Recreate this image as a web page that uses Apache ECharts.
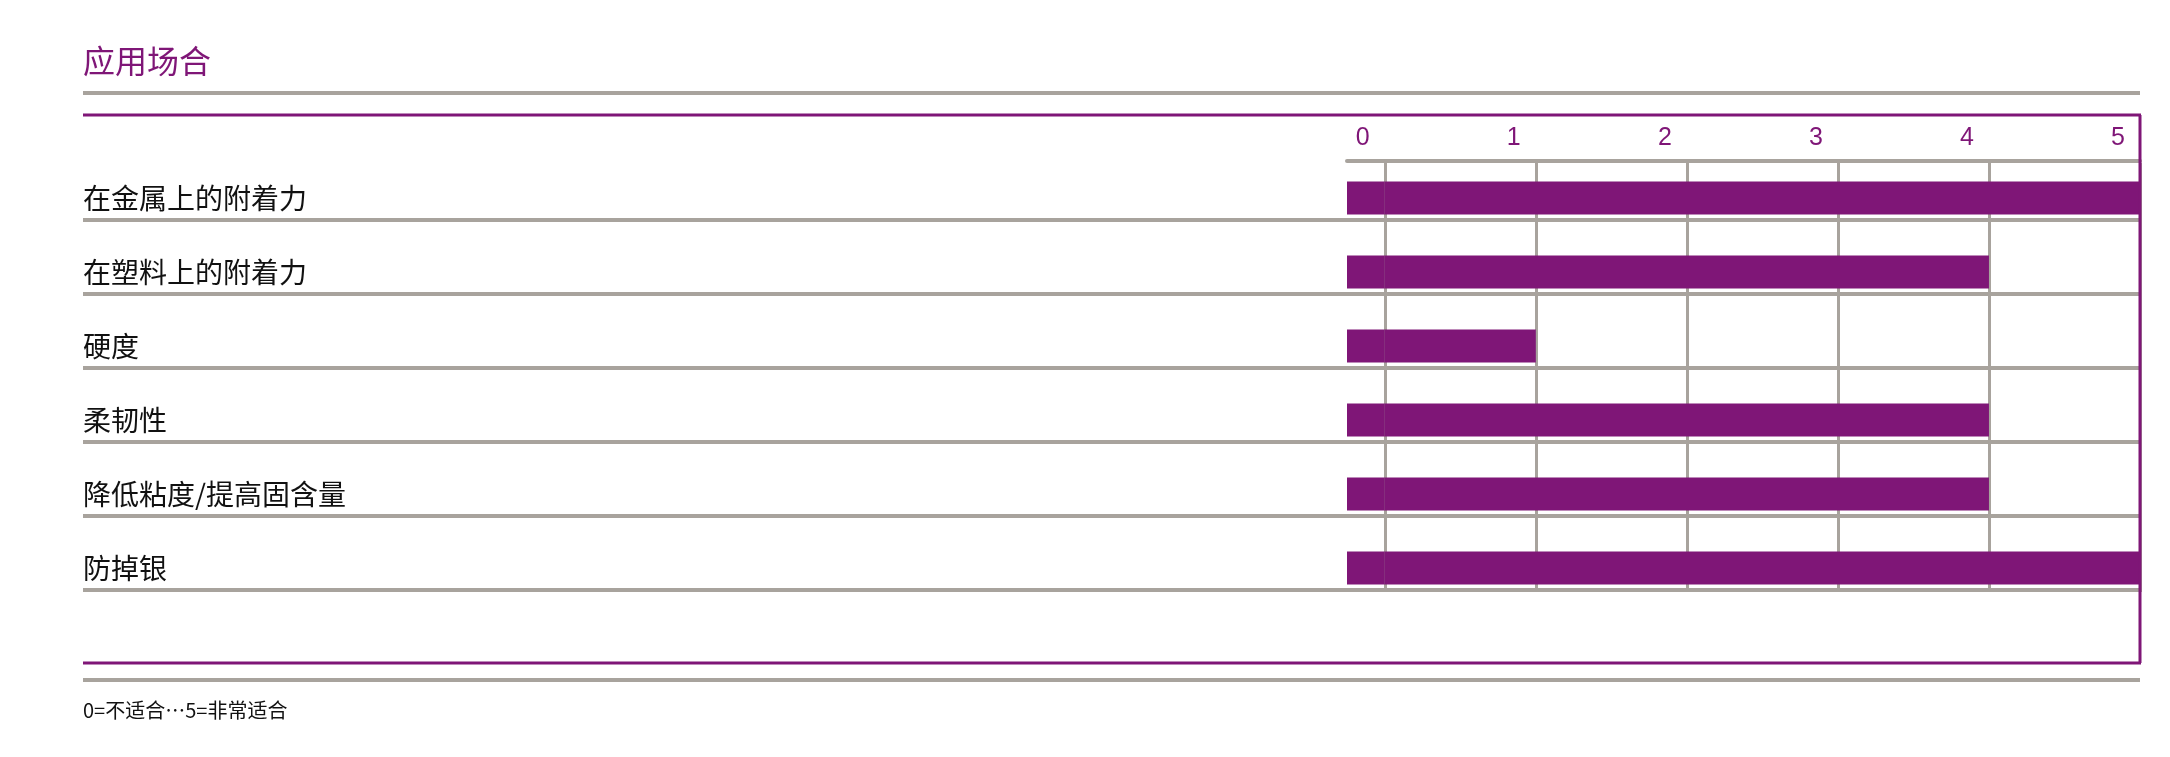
<!DOCTYPE html>
<html><head><meta charset="utf-8">
<script src="https://cdn.jsdelivr.net/npm/echarts@6/dist/echarts.min.js"></script>
<style>html,body{margin:0;padding:0;background:#fff}#c{width:2170px;height:757px}</style>
</head><body><div id="c"></div>
<script>
const categories = ['在金属上的附着力','在塑料上的附着力','硬度','柔韧性','降低粘度/提高固含量','防掉银'];
const values = [5, 4, 1, 4, 4, 5];
const tickValues = [0, 1, 2, 3, 4, 5];
const barStart = -0.25;
const title = '应用场合';
const footnote = '0=不适合…5=非常适合';

const PURPLE = '#7f1677', GRAY = '#a8a39d';
const FONT = '"Noto Sans CJK SC","Liberation Sans",sans-serif';
const chart = echarts.init(document.getElementById('c'));
const L = 83, R = 2140;
const rowH = 74, topBars = 161;
chart.setOption({
  animation: false,
  grid: [
    {left: 1347, right: 30, top: topBars, height: rowH * 6},
    {left: L, right: 30, top: topBars - 15, height: rowH * 6},
    {left: 1347, right: 30, top: 163, height: 429}
  ],
  xAxis: [
    {gridIndex: 0, type: 'value', position: 'top', min: barStart, max: 5,
     axisLine: {show: true, lineStyle: {color: GRAY, width: 4}},
     axisTick: {show: false}, splitLine: {show: false},
     axisLabel: {customValues: tickValues, color: PURPLE, fontSize: 25, fontFamily: 'Liberation Sans',
                 margin: 10, padding: [0, 44, 0, 0]}},
    {gridIndex: 1, type: 'value', show: false},
    {gridIndex: 2, type: 'value', min: barStart, max: 5,
     axisLine: {show: false}, axisLabel: {show: false},
     axisTick: {show: false, customValues: tickValues},
     splitLine: {show: true, lineStyle: {color: GRAY, width: 3}}}
  ],
  yAxis: [
    {gridIndex: 0, type: 'category', data: categories, inverse: true,
     axisLine: {show: false}, axisTick: {show: false},
     axisLabel: {align: 'left', margin: 1347 - L, color: '#111', fontSize: 28, fontFamily: FONT}},
    {gridIndex: 1, type: 'category', data: categories, inverse: true,
     axisLine: {show: false}, axisTick: {show: false}, axisLabel: {show: false},
     splitLine: {show: true, lineStyle: {color: ['transparent', GRAY, GRAY, GRAY, GRAY, GRAY, GRAY], width: 4}}},
    {gridIndex: 2, type: 'category', data: categories, show: false}
  ],
  series: [
    {type: 'bar', xAxisIndex: 0, yAxisIndex: 0, stack: 's', barWidth: 33, silent: true,
     data: categories.map(() => barStart), itemStyle: {color: PURPLE}},
    {type: 'bar', xAxisIndex: 0, yAxisIndex: 0, stack: 's', barWidth: 33, silent: true,
     data: values, itemStyle: {color: PURPLE}, z: 5}
  ],
  graphic: [
    {type: 'text', left: L, top: 45, style: {text: title, fill: PURPLE, fontSize: 32, fontFamily: FONT}},
    {type: 'line', shape: {x1: L, y1: 93, x2: R, y2: 93}, style: {stroke: GRAY, lineWidth: 4}},
    {type: 'line', shape: {x1: L, y1: 115, x2: R + 1, y2: 115}, style: {stroke: PURPLE, lineWidth: 3}, z: 10},
    {type: 'line', shape: {x1: R, y1: 115, x2: R, y2: 663}, style: {stroke: PURPLE, lineWidth: 3}, z: 10},
    {type: 'line', shape: {x1: L, y1: 663, x2: R + 1, y2: 663}, style: {stroke: PURPLE, lineWidth: 3}, z: 10},
    {type: 'line', shape: {x1: L, y1: 680, x2: R, y2: 680}, style: {stroke: GRAY, lineWidth: 4}},
    {type: 'text', left: L, top: 700, style: {text: footnote, fill: '#111', fontSize: 20, fontFamily: FONT}}
  ]
});
</script></body></html>
